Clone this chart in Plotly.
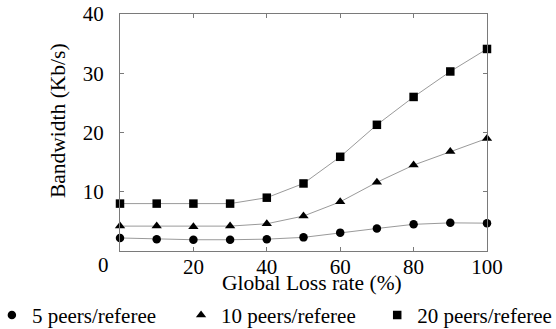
import plotly.graph_objects as go

loss_rate = [0, 10, 20, 30, 40, 50, 60, 70, 80, 90, 100]
peers5 = [2.2, 2.0, 1.9, 1.9, 2.0, 2.3, 3.1, 3.8, 4.5, 4.75, 4.7]
peers10 = [4.2, 4.2, 4.1, 4.2, 4.6, 5.9, 8.3, 11.6, 14.5, 16.8, 19.0]
peers20 = [8.0, 8.0, 8.0, 8.0, 9.0, 11.4, 15.9, 21.3, 26.0, 30.3, 34.1]
series_names = ["5 peers/referee", "10 peers/referee", "20 peers/referee"]
x_ticks = [20, 40, 60, 80, 100]
y_ticks = [10, 20, 30, 40]
x_title = "Global Loss rate (%)"
y_title = "Bandwidth (Kb/s)"

FONT = "Liberation Serif"
symbols = ["circle", "triangle-up", "square"]
sizes = [8.5, 9, 8.5]
legend_ids = ["legend", "legend2", "legend3"]

W, H = 556, 329
BODY = 0  # page body margin is removed by the post script below
# plot area in screen pixels
PL, PR, PT, PB = 120, 486.7, 14, 250.7
PW, PH = PR - PL, PB - PT
ML, MT = PL - BODY, PT - BODY
MR, MB = W - (PR - BODY), H - (PB - BODY)


def px_x(p):
    return (p - PL) / PW


def px_y(p):
    return (PB - p) / PH


fig = go.Figure()
for name, ys, sym, sz, lg in zip(series_names, [peers5, peers10, peers20], symbols, sizes, legend_ids):
    fig.add_trace(go.Scatter(
        x=loss_rate, y=ys, name=name, mode="lines",
        line=dict(color="#9a9a9a", width=1), showlegend=False, hoverinfo="skip",
    ))
    fig.add_trace(go.Scatter(
        x=loss_rate, y=ys, name=name, mode="markers",
        marker=dict(symbol=sym, size=sz, color="black"),
        cliponaxis=False, legend=lg,
    ))

axis_common = dict(
    showline=True, linecolor="#7a7a7a", linewidth=1, mirror="ticks",
    ticks="inside", ticklen=4, tickcolor="#7a7a7a", showgrid=False, zeroline=False,
    tickfont=dict(family=FONT, size=21, color="black"), automargin=False,
    ticklabeloverflow="allow",
)
fig.update_xaxes(range=[0, 100], tickvals=x_ticks, ticklabelstandoff=-3, **axis_common)
fig.update_yaxes(range=[0, 40], tickvals=y_ticks, ticklabelstandoff=11, **axis_common)

title_font = dict(family=FONT, size=21.5, color="black")
fig.add_annotation(text=x_title, x=px_x(311.7), y=px_y(283), xref="paper", yref="paper",
                   xanchor="center", yanchor="middle", showarrow=False, font=title_font)
fig.add_annotation(text=y_title, x=px_x(58), y=px_y(120), xref="paper", yref="paper",
                   xanchor="center", yanchor="middle", textangle=-90, showarrow=False, font=title_font)
fig.add_annotation(text="0", x=px_x(104), y=px_y(265), xref="paper", yref="paper",
                   xanchor="center", yanchor="middle", showarrow=False,
                   font=dict(family=FONT, size=21, color="black"))

legend_x_px = [-8, 181, 377]
legend_style = dict(orientation="v", xanchor="left", yanchor="middle",
                    font=dict(family=FONT, size=21, color="black"),
                    bgcolor="rgba(0,0,0,0)", borderwidth=0)
layout_legends = {}
for lg, lx in zip(legend_ids, legend_x_px):
    layout_legends[lg] = dict(x=px_x(lx), y=px_y(315), **legend_style)

fig.update_layout(
    width=W, height=H,
    margin=dict(l=ML, r=MR, t=MT, b=MB, autoexpand=False),
    paper_bgcolor="white", plot_bgcolor="white",
    **layout_legends,
)
fig.write_html("out.html", config={"displayModeBar": False},
               post_script="document.body.style.margin='0px';")
